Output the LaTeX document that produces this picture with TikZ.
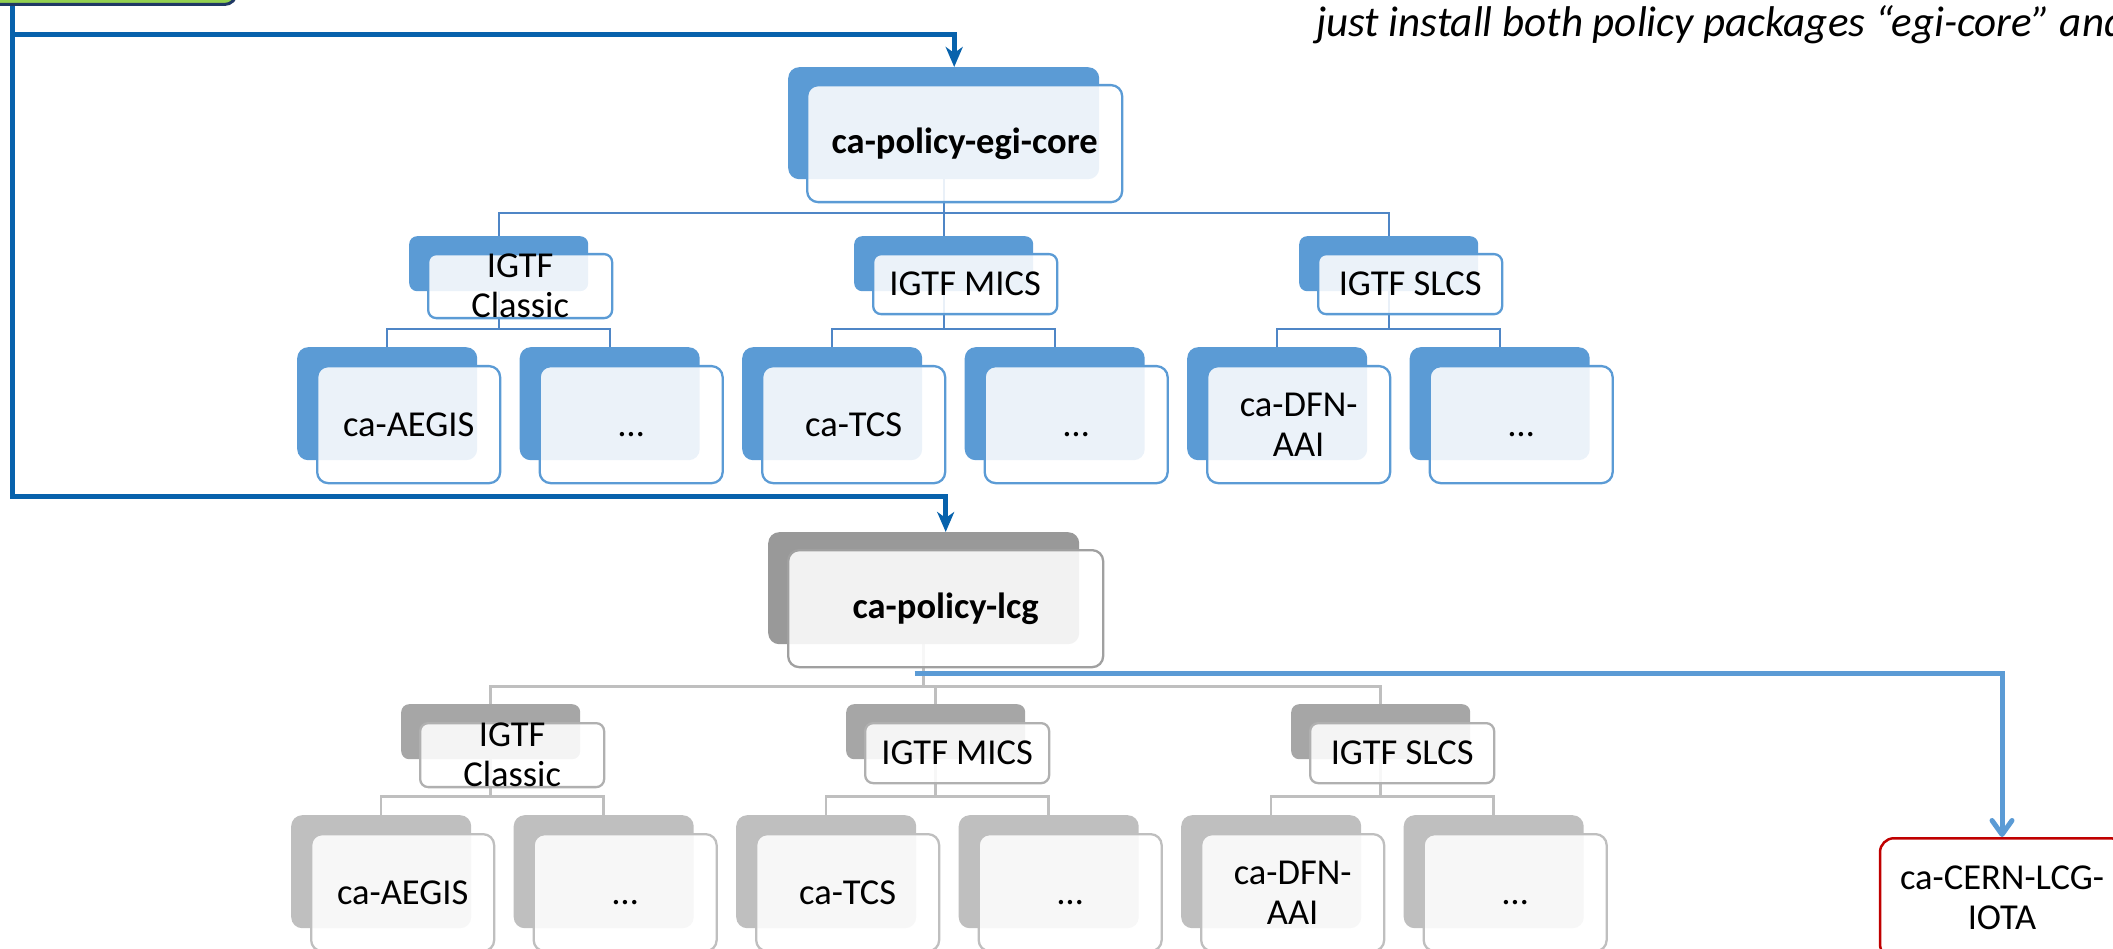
\documentclass[tikz,border=0pt]{standalone}
\usepackage{fontspec}
\setmainfont{Carlito}
\usetikzlibrary{arrows.meta}
\pgfdeclarelayer{bg}
\pgfsetlayers{bg,main}
\definecolor{bback}{HTML}{5B9BD5}
\definecolor{bconn}{HTML}{4F86C6}
\definecolor{gbig}{HTML}{999999}
\definecolor{gmid}{HTML}{A6A6A6}
\definecolor{gsmall}{HTML}{BFBFBF}
\definecolor{gbordbig}{HTML}{A0A0A0}
\definecolor{gbordmid}{HTML}{B0B0B0}
\definecolor{gbordsml}{HTML}{BFBFBF}
\definecolor{gconn}{HTML}{BFBFBF}
\definecolor{dblue}{HTML}{0762AC}
\definecolor{lblue}{HTML}{5B9BD5}
\definecolor{cred}{HTML}{C00000}
\definecolor{ggreen}{HTML}{92D050}
\definecolor{navy}{HTML}{1F3864}
\newcommand{\lblfont}{\fontsize{36.5}{40}\selectfont}
\newcommand{\twin}[7]{%
  \node[#4] (#1-b) at (#2,#3) {};
  \node[#5] (#1) at ([shift={#6}]#1-b.north west) {#7};
}
\tikzset{
  backbox/.style={anchor=north west, inner sep=0pt, rounded corners=11pt, draw=none},
  frontbox/.style={anchor=north west, inner sep=0pt, rounded corners=11pt, fill=white,
     fill opacity=0.88, text opacity=1, line width=2.3pt, align=center, font=\lblfont},
  bigb/.style={backbox, minimum width=311pt, minimum height=112pt},
  bigf/.style={frontbox, minimum width=315pt, minimum height=117pt, font=\lblfont\bfseries},
  midb/.style={backbox, minimum width=179pt, minimum height=55pt, rounded corners=8pt},
  midf/.style={frontbox, minimum width=184pt, minimum height=60pt, rounded corners=8pt},
  smlb/.style={backbox, minimum width=180pt, minimum height=113pt},
  smlf/.style={frontbox, minimum width=183pt, minimum height=117pt},
  tconn/.style={draw=bconn, line width=2pt},
  gconnline/.style={draw=gconn, line width=2.5pt},
  darrow/.style={draw=dblue, line width=5pt, -{Stealth[length=20pt,width=17pt,inset=6pt]}},
  larrow/.style={draw=lblue, line width=5pt, -{Straight Barb[length=14pt,width=20pt,round]}},
}
\begin{document}
\begin{tikzpicture}[x=1pt,y=-1pt]
\useasboundingbox (0,0) rectangle (2113,949);
\clip (0,0) rectangle (2113,949);

% ---------- top tree (egi-core) ----------
\twin{egi}{788}{67}{bigb,fill=bback}{bigf,draw=bback}{(18,17)}{ca-policy-egi-core}
\twin{tcl}{409}{236}{midb,fill=bback}{midf,draw=bback}{(18,17)}{IGTF\\Classic}
\twin{tmi}{854}{236}{midb,fill=bback}{midf,draw=bback}{(18,17)}{IGTF MICS}
\twin{tsl}{1299}{236}{midb,fill=bback}{midf,draw=bback}{(18,17)}{IGTF SLCS}
\twin{ta1}{297}{347}{smlb,fill=bback}{smlf,draw=bback}{(19,18)}{ca-AEGIS}
\twin{ta2}{519.5}{347}{smlb,fill=bback}{smlf,draw=bback}{(19,18)}{\vphantom{A}…}
\twin{tm1}{742}{347}{smlb,fill=bback}{smlf,draw=bback}{(19,18)}{ca-TCS}
\twin{tm2}{964.5}{347}{smlb,fill=bback}{smlf,draw=bback}{(19,18)}{\vphantom{A}…}
\twin{ts1}{1187}{347}{smlb,fill=bback}{smlf,draw=bback}{(19,18)}{ca-DFN-\\AAI}
\twin{ts2}{1409.5}{347}{smlb,fill=bback}{smlf,draw=bback}{(19,18)}{\vphantom{A}…}

% ---------- bottom tree (lcg) ----------
\twin{lcg}{768}{532}{bigb,fill=gbig}{bigf,draw=gbordbig}{(19,17)}{ca-policy-lcg}
\twin{bcl}{401}{704}{midb,fill=gmid}{midf,draw=gbordmid}{(18,18)}{IGTF\\Classic}
\twin{bmi}{846}{704}{midb,fill=gmid}{midf,draw=gbordmid}{(18,18)}{IGTF MICS}
\twin{bsl}{1291}{704}{midb,fill=gmid}{midf,draw=gbordmid}{(18,18)}{IGTF SLCS}
\twin{ba1}{291}{815}{smlb,fill=gsmall}{smlf,draw=gbordsml}{(19,18)}{ca-AEGIS}
\twin{ba2}{513.5}{815}{smlb,fill=gsmall}{smlf,draw=gbordsml}{(19,18)}{\vphantom{A}…}
\twin{bm1}{736}{815}{smlb,fill=gsmall}{smlf,draw=gbordsml}{(19,18)}{ca-TCS}
\twin{bm2}{958.5}{815}{smlb,fill=gsmall}{smlf,draw=gbordsml}{(19,18)}{\vphantom{A}…}
\twin{bs1}{1181}{815}{smlb,fill=gsmall}{smlf,draw=gbordsml}{(19,18)}{ca-DFN-\\AAI}
\twin{bs2}{1403.5}{815}{smlb,fill=gsmall}{smlf,draw=gbordsml}{(19,18)}{\vphantom{A}…}

% ---------- tree connectors ----------
\begin{pgfonlayer}{bg}
  \foreach \c in {tcl,tmi,tsl} \draw[tconn] (egi-b.south) -- ++(0,34) -| (\c-b.north);
  \foreach \c in {ta1,ta2} \draw[tconn] (tcl-b.south) -- ++(0,38) -| (\c-b.north);
  \foreach \c in {tm1,tm2} \draw[tconn] (tmi-b.south) -- ++(0,38) -| (\c-b.north);
  \foreach \c in {ts1,ts2} \draw[tconn] (tsl-b.south) -- ++(0,38) -| (\c-b.north);
  \foreach \c in {bcl,bmi,bsl} \draw[gconnline] (lcg-b.south) -- ++(0,42) -| (\c-b.north);
  \foreach \c in {ba1,ba2} \draw[gconnline] (bcl-b.south) -- ++(0,37) -| (\c-b.north);
  \foreach \c in {bm1,bm2} \draw[gconnline] (bmi-b.south) -- ++(0,37) -| (\c-b.north);
  \foreach \c in {bs1,bs2} \draw[gconnline] (bsl-b.south) -- ++(0,37) -| (\c-b.north);
\end{pgfonlayer}

% ---------- CERN box ----------
\node[draw=cred, line width=2.5pt, rounded corners=14pt, fill=white, minimum width=244pt,
      minimum height=120pt, anchor=north, align=center, font=\lblfont, inner sep=0pt]
      (cern) at (2002,837) {ca-CERN-LCG-\\IOTA};

% ---------- green box and arrows ----------
\coordinate (tap) at (12,6);
\coordinate (rail1) at (12,35);
\coordinate (rail2) at (12,496);
\coordinate (egiin) at ([xshift=10.5pt]egi-b.north);
\coordinate (lcgin) at ([xshift=22pt]lcg-b.north);
\draw[darrow] (tap) -- (rail1) -| (egiin);
\draw[darrow] (tap) -- (rail2) -| (lcgin);
\node[fill=ggreen, draw=navy, line width=3pt, rounded corners=12pt, minimum width=320pt,
      minimum height=80pt, anchor=south east, inner sep=0pt] (greenbox) at (238,6) {};

\coordinate (lcgtap) at ([shift={(-31,5)}]lcg.south);
\draw[larrow] (lcgtap) -| (cern.north);

% ---------- note ----------
\node[anchor=base west, inner sep=0pt, font=\fontsize{43}{46}\selectfont\itshape] (note)
  at (1316,37) {just install both policy packages “egi-core” and};
\end{tikzpicture}
\end{document}
